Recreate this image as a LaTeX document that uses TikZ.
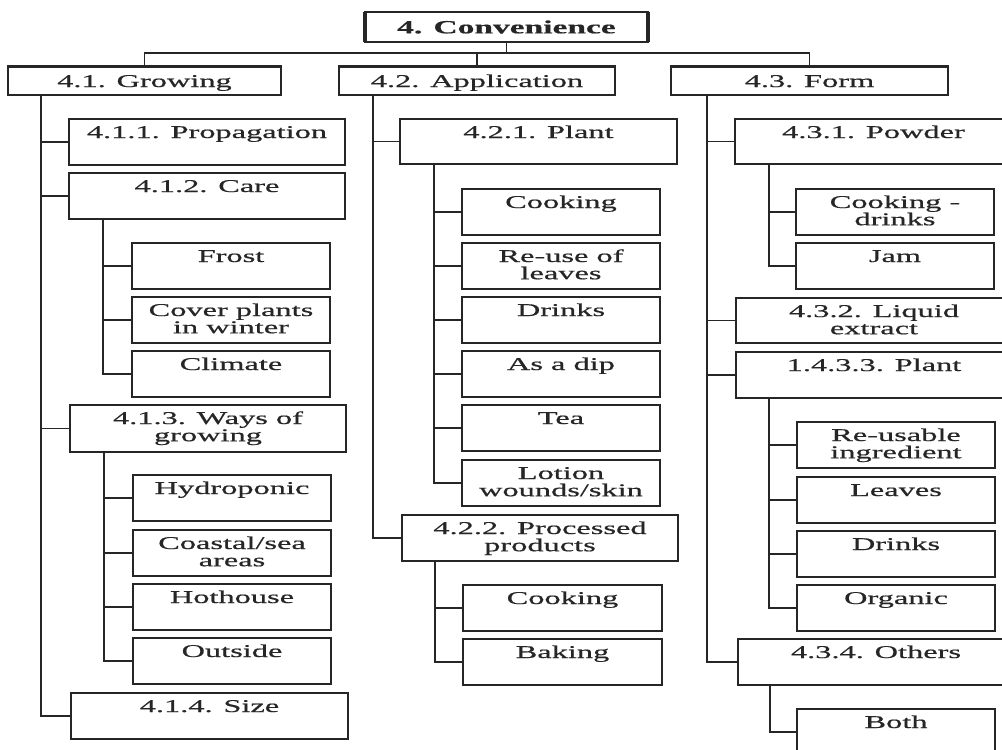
\documentclass[tikz,border=0pt]{standalone}
\usepackage{fontspec}
\newfontfamily\boxfont[FakeStretch=1.8,FakeBold=0.6]{Liberation Serif}
\usetikzlibrary{calc}
% text of a box: width and height given in picture units (half points)
\newcommand{\bxtext}[3]{\parbox[t][\dimexpr#2pt/2\relax][t]{\dimexpr#1pt/2\relax}{\centering\rule{0pt}{9.5pt}#3}}
\newcommand{\hdtext}[3]{\parbox[t][\dimexpr#2pt/2\relax][t]{\dimexpr#1pt/2\relax}{\centering\rule{0pt}{10.5pt}#3}}
\definecolor{ink}{HTML}{262626}
\tikzset{
  box/.style={draw=ink, line width=0.9pt, inner sep=0pt, outer sep=0pt, anchor=north west,
    text=ink, font=\boxfont\fontsize{9}{8.6}\selectfont},
  link/.style={draw=ink, line width=0.9pt},
  topbox/.style={draw=ink, line width=0.9pt, inner sep=0pt, outer sep=0pt, anchor=north west,
    minimum width=141.5pt, minimum height=15pt, text=ink,
    font=\boxfont\bfseries\fontsize{9.3}{10}\selectfont}
}
\begin{document}
\begin{tikzpicture}[x=0.5pt,y=-0.5pt]
\useasboundingbox (0,0) rectangle (1002,750);
\clip (0,0) rectangle (1002,750);
\fill[white] (0,0) rectangle (1002,750);

% root
\node[topbox] (root) at (365,12) {4. Convenience};
\draw[ink, line width=2.2pt] (root.north west) -- (root.south west);
\draw[ink, line width=2.2pt] (root.north east) -- (root.south east);
\draw[ink, line width=1.3pt] (root.south west) -- (root.south east);

% first level
\node[box] (g) at (8,66)   {\hdtext{273}{29}{4.1. Growing}};
\node[box] (a) at (339,66) {\hdtext{276}{29}{4.2. Application}};
\node[box] (f) at (671,66) {\hdtext{277}{29}{4.3. Form}};
\foreach \n in {g,a,f} \draw[ink, line width=1.5pt] (\n.north west) -- (\n.north east);

\draw[link] (g.north) -- ++(0,-13) -| (f.north);
\draw[link] (a.north) -- ++(0,-13);
\draw[link] (root.south) -- ++(0,11);

% 4.1 Growing
\node[box] (g1) at (69,119) {\bxtext{276}{46}{4.1.1. Propagation}};
\node[box] (g2) at (69,173) {\bxtext{276}{46}{4.1.2. Care}};
\node[box] (g21) at (132,243) {\bxtext{198}{46}{Frost}};
\node[box] (g22) at (132,297) {\bxtext{198}{46}{Cover plants\\in winter}};
\node[box] (g23) at (132,351) {\bxtext{198}{46}{Climate}};
\node[box] (g3) at (70,405) {\bxtext{276}{47}{4.1.3. Ways of\\growing}};
\node[box] (g31) at (133,475) {\bxtext{198}{46}{Hydroponic}};
\node[box] (g32) at (133,530) {\bxtext{198}{46}{Coastal/sea\\areas}};
\node[box] (g33) at (133,584) {\bxtext{198}{46}{Hothouse}};
\node[box] (g34) at (133,638) {\bxtext{198}{46}{Outside}};
\node[box] (g4) at (71,693) {\bxtext{277}{46}{4.1.4. Size}};

\foreach \c in {g1,g2,g3,g4} \draw[link] (g.south west) ++(33,0) |- (\c.west);
\foreach \c in {g21,g22,g23} \draw[link] (g2.south west) ++(34,0) |- (\c.west);
\foreach \c in {g31,g32,g33,g34} \draw[link] (g3.south west) ++(34,0) |- (\c.west);

% 4.2 Application
\node[box] (a1) at (400,119) {\bxtext{277}{45}{4.2.1. Plant}};
\node[box] (a11) at (462,189) {\bxtext{198}{46}{Cooking}};
\node[box] (a12) at (462,243) {\bxtext{198}{46}{Re-use of\\leaves}};
\node[box] (a13) at (462,297) {\bxtext{198}{46}{Drinks}};
\node[box] (a14) at (462,351) {\bxtext{198}{46}{As a dip}};
\node[box] (a15) at (462,405) {\bxtext{198}{46}{Tea}};
\node[box] (a16) at (462,460) {\bxtext{198}{46}{Lotion\\wounds/skin}};
\node[box] (a2) at (402,515) {\bxtext{276}{46}{4.2.2. Processed\\products}};
\node[box] (a21) at (463,585) {\bxtext{199}{46}{Cooking}};
\node[box] (a22) at (463,639) {\bxtext{199}{46}{Baking}};

\foreach \c in {a1,a2} \draw[link] (a.south west) ++(34,0) |- (\c.west);
\foreach \c in {a11,a12,a13,a14,a15,a16} \draw[link] (a1.south west) ++(34,0) |- (\c.west);
\foreach \c in {a21,a22} \draw[link] (a2.south west) ++(33,0) |- (\c.west);

% 4.3 Form
\node[box] (f1) at (735,119) {\bxtext{277}{45}{4.3.1. Powder}};
\node[box] (f11) at (796,189) {\bxtext{198}{46}{Cooking -\\drinks}};
\node[box] (f12) at (796,243) {\bxtext{198}{46}{Jam}};
\node[box] (f2) at (736,298) {\bxtext{276}{45}{4.3.2. Liquid\\extract}};
\node[box] (f3) at (736,352) {\bxtext{276}{46}{1.4.3.3. Plant}};
\node[box] (f31) at (797,422) {\bxtext{198}{46}{Re-usable\\ingredient}};
\node[box] (f32) at (797,477) {\bxtext{198}{46}{Leaves}};
\node[box] (f33) at (797,531) {\bxtext{198}{46}{Drinks}};
\node[box] (f34) at (797,585) {\bxtext{198}{46}{Organic}};
\node[box] (f4) at (738,639) {\bxtext{276}{46}{4.3.4. Others}};
\node[box] (f41) at (797,709) {\bxtext{198}{46}{Both}};

\foreach \c in {f1,f2,f3,f4} \draw[link] (f.south west) ++(36,0) |- (\c.west);
\foreach \c in {f11,f12} \draw[link] (f1.south west) ++(34,0) |- (\c.west);
\foreach \c in {f31,f32,f33,f34} \draw[link] (f3.south west) ++(33,0) |- (\c.west);
\draw[link] (f4.south west) ++(32,0) |- (f41.west);
\end{tikzpicture}
\end{document}
